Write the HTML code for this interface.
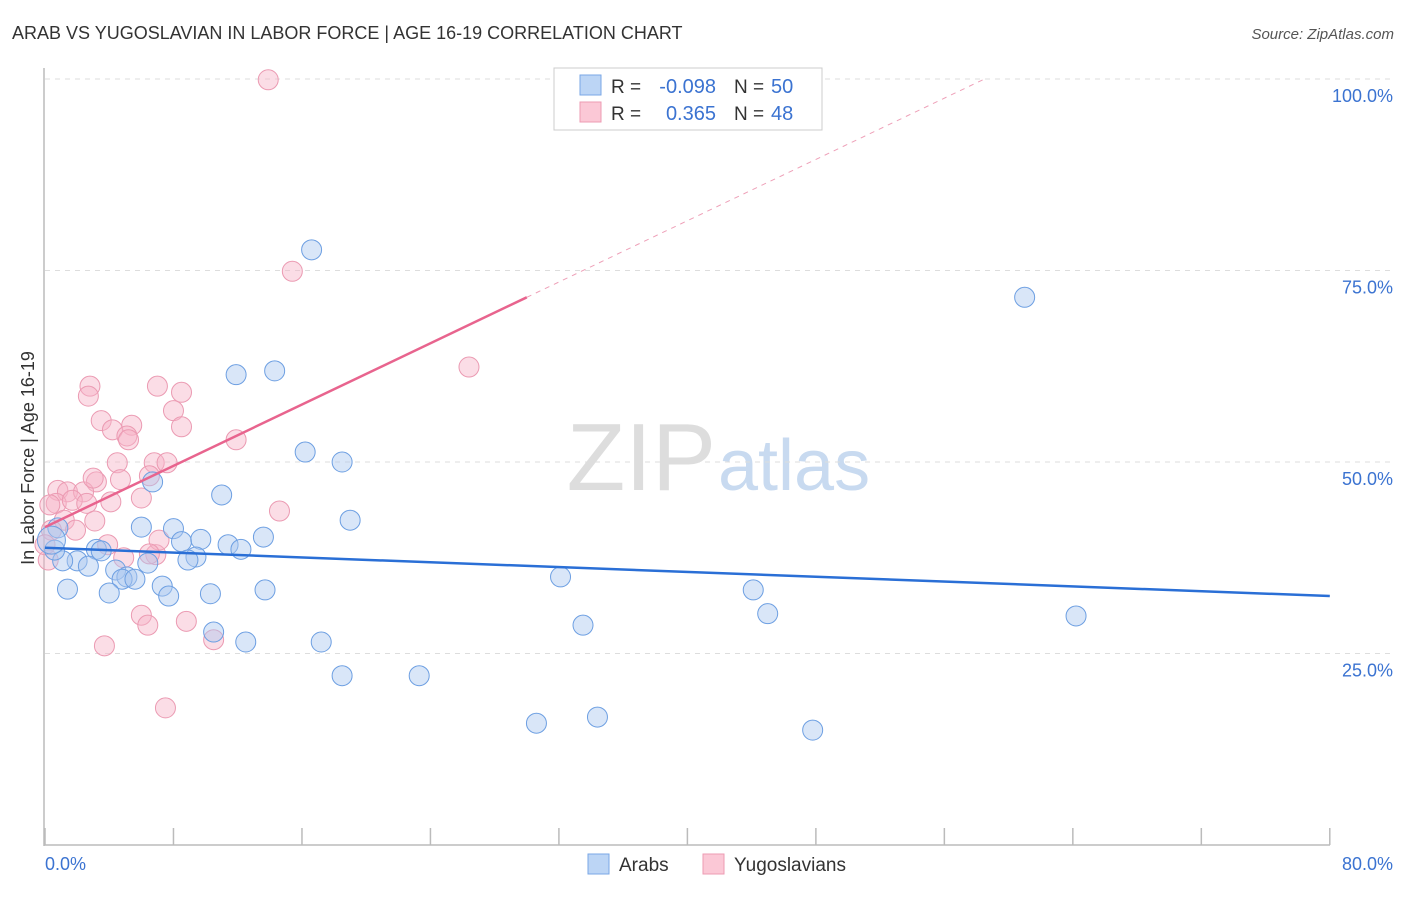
<!DOCTYPE html>
<html><head><meta charset="utf-8"><style>
body{margin:0;background:#fff;font-family:"Liberation Sans",sans-serif}
svg text{font-family:"Liberation Sans",sans-serif}
</style></head><body>
<svg id="chart" width="1406" height="892" xmlns="http://www.w3.org/2000/svg">
<text x="12" y="39" font-size="18" fill="#333">ARAB VS YUGOSLAVIAN IN LABOR FORCE | AGE 16-19 CORRELATION CHART</text>
<text x="1394" y="39" font-size="15" fill="#555" font-style="italic" text-anchor="end">Source: ZipAtlas.com</text>
<text x="716" y="490" font-size="96" fill="#ddd" font-family="Liberation Serif" text-anchor="end">ZIP</text>
<text x="718" y="490" font-size="72" fill="#c8daf0">atlas</text>
<g id="grid"></g>
<line x1="44" y1="68" x2="44" y2="846" stroke="#bbb" stroke-width="1.5"/>
<line x1="44" y1="845" x2="1330" y2="845" stroke="#bbb" stroke-width="1.5"/>
<g id="ticks"></g>
<text x="34" y="458" font-size="18" fill="#333" text-anchor="middle" transform="rotate(-90 34 458)">In Labor Force | Age 16-19</text>
<text x="45" y="870" font-size="18" fill="#3b73d1">0.0%</text>
<text x="1393" y="870" font-size="18" fill="#3b73d1" text-anchor="end">80.0%</text>
<g id="points"></g>
<g id="trends"></g>
<g>
<rect x="554" y="68" width="268" height="62" fill="#fff" stroke="#ccc"/>
<rect x="580" y="75" width="21" height="20" fill="#bcd5f5" stroke="#7aa7e6"/>
<rect x="580" y="102" width="21" height="20" fill="#fbc8d6" stroke="#ee9bb3"/>
<text x="611" y="93" font-size="19" fill="#333">R =</text><text x="716" y="93" font-size="20" fill="#3b73d1" text-anchor="end">-0.098</text>
<text x="734" y="93" font-size="19" fill="#333">N =</text><text x="771" y="93" font-size="20" fill="#3b73d1">50</text>
<text x="611" y="120" font-size="19" fill="#333">R =</text><text x="716" y="120" font-size="20" fill="#3b73d1" text-anchor="end">0.365</text>
<text x="734" y="120" font-size="19" fill="#333">N =</text><text x="771" y="120" font-size="20" fill="#3b73d1">48</text>
</g>
<g><rect x="588" y="854" width="21" height="20" fill="#bcd5f5" stroke="#7aa7e6"/><text x="619" y="871" font-size="19" fill="#333">Arabs</text></g>
<g><rect x="703" y="854" width="21" height="20" fill="#fbc8d6" stroke="#ee9bb3"/><text x="734" y="871" font-size="19" fill="#333">Yugoslavians</text></g>
</svg>
<script>
const yTicks=[25,50,75,100];
const yTickLabels=["25.0%","50.0%","75.0%","100.0%"];
const xTicks=[0,8,16,24,32,40,48,56,64,72,80];
const arabX=[16.6,61.0,11.9,14.3,16.2,18.5,19.0,6.7,11.0,6.0,8.0,8.5,9.7,11.4,12.2,13.6,9.4,8.9,3.2,3.5,2.0,2.7,1.1,0.6,0.8,4.4,5.1,4.8,5.6,6.4,7.3,7.7,4.0,1.4,10.3,13.7,10.5,12.5,17.2,18.5,23.3,32.1,33.5,30.6,34.4,44.1,45.0,47.8,64.2,0.4];
const arabY=[77.7,71.5,61.4,61.9,51.3,50.0,42.4,47.4,45.7,41.5,41.3,39.6,39.9,39.2,38.6,40.2,37.6,37.2,38.6,38.4,37.1,36.4,37.1,38.5,41.4,35.9,35.0,34.7,34.7,36.8,33.8,32.5,32.9,33.4,32.8,33.3,27.8,26.5,26.5,22.1,22.1,35.0,28.7,15.9,16.7,33.3,30.2,15.0,29.9,39.8];
const yugoX=[13.9,15.4,26.4,2.8,2.7,7.0,8.5,3.5,5.4,8.0,4.2,5.1,5.2,8.5,11.9,4.5,6.8,7.6,6.5,4.7,3.2,6.0,4.1,0.8,1.4,0.7,2.4,1.7,2.6,1.2,3.1,1.9,0.3,0.4,6.9,7.1,3.9,4.9,6.5,14.6,3.0,6.0,6.4,8.8,10.5,3.7,7.5,0.2,0.0];
const yugoY=[99.9,74.9,62.4,59.9,58.6,59.9,59.1,55.4,54.8,56.7,54.2,53.4,52.9,54.6,52.9,49.9,49.9,49.9,48.2,47.7,47.4,45.3,44.8,46.3,46.1,44.6,46.1,45.0,44.6,42.4,42.3,41.1,44.4,41.1,37.9,39.8,39.2,37.5,38.0,43.6,47.9,30.0,28.7,29.2,26.8,26.0,17.9,37.2,39.2];
const arabTrend=[38.8,32.5];   // y at x=0 and x=80
const yugoTrend=[41.5,1.0];    // intercept, slope
const NS="http://www.w3.org/2000/svg";
const X=v=>45+v*16.06, Y=v=>845-v*7.66;
function mk(t,a,p){const e=document.createElementNS(NS,t);for(const k in a)e.setAttribute(k,a[k]);p.appendChild(e);return e;}
const grid=document.getElementById('grid');
yTicks.forEach((t,i)=>{
 const l=mk('line',{x1:45,x2:1394,y1:Y(t),y2:Y(t),stroke:'#ddd','stroke-dasharray':'5,5'},grid);
 
 
 const tx=mk('text',{x:1393,y:Y(t)+23,'font-size':18,fill:'#3b73d1','text-anchor':'end'},grid);
 tx.textContent=yTickLabels[i];
 
 
});
const tk=document.getElementById('ticks');
xTicks.forEach(t=>{
 const l=mk('line',{x1:X(t),x2:X(t),y1:828,y2:845,stroke:'#bbb','stroke-width':1.5},tk);
 
 
});
const pts=document.getElementById('points');
yugoX.forEach((x,i)=>{
 const c=mk('circle',{cx:X(x),cy:Y(yugoY[i]),r:10,fill:'rgba(246,180,200,0.45)',stroke:'#eb9ab2','stroke-width':1},pts);
 
 
});
arabX.forEach((x,i)=>{
 const c=mk('circle',{cx:X(x),cy:Y(arabY[i]),r:i==49?14:10,fill:'rgba(170,200,240,0.45)',stroke:'#6d9fe2','stroke-width':1},pts);
 
 
});
const tr=document.getElementById('trends');
const a=mk('line',{x1:X(0),y1:Y(arabTrend[0]),x2:X(80),y2:Y(arabTrend[1]),stroke:'#2a6fd6','stroke-width':2.5},tr);


const ye=v=>yugoTrend[0]+yugoTrend[1]*v;
const xEnd=(100-yugoTrend[0])/yugoTrend[1];
const b=mk('line',{x1:X(0),y1:Y(ye(0)),x2:X(30),y2:Y(ye(30)),stroke:'#e8648e','stroke-width':2.5},tr);


const d=mk('line',{x1:X(30),y1:Y(ye(30)),x2:X(xEnd),y2:Y(100),stroke:'#eea0b8','stroke-width':1,'stroke-dasharray':'5,5'},tr);


</script>
</body></html>
